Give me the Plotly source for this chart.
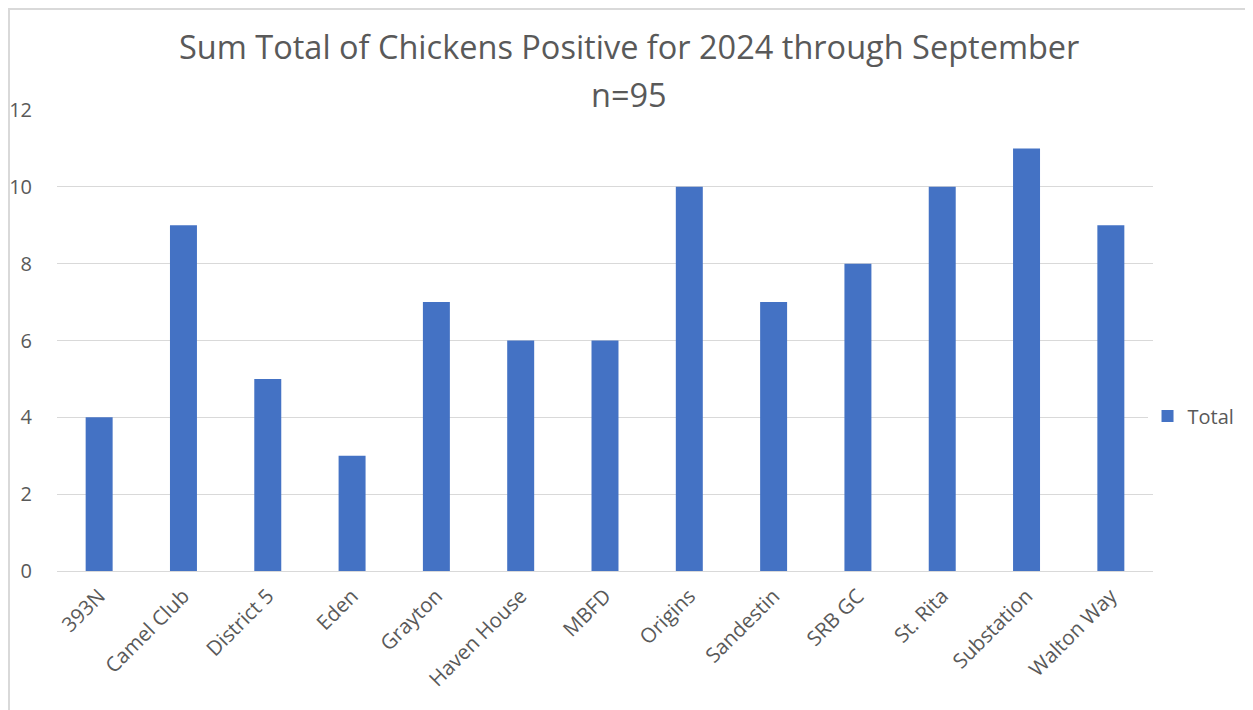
import plotly.graph_objects as go

# chart data
sites = ["393N", "Camel Club", "District 5", "Eden", "Grayton", "Haven House", "MBFD",
         "Origins", "Sandestin", "SRB GC", "St. Rita", "Substation", "Walton Way"]
totals = [4, 9, 5, 3, 7, 6, 6, 10, 7, 8, 10, 11, 9]
y_ticks = [0, 2, 4, 6, 8, 10, 12]

grey_text = "#595959"
font_family = "Open Sans, Noto Sans, sans-serif"

fig = go.Figure()

fig.add_trace(go.Bar(
    x=sites, y=totals, name="Total",
    marker=dict(color="#4472C4", line=dict(width=0)),
    width=0.32,
))

# the page body adds an 8px offset, so margins are shifted to compensate
fig.update_layout(
    width=1253, height=710,
    paper_bgcolor="white", plot_bgcolor="white",
    margin=dict(l=49, r=108, t=102, b=147, autoexpand=False),
    font=dict(family=font_family, color=grey_text, size=20),
    showlegend=True,
    legend=dict(x=0.995, y=0.336, xanchor="left", yanchor="middle",
                font=dict(size=20, color=grey_text), itemwidth=30),
    xaxis=dict(tickangle=-45, showgrid=False, showline=False, ticks="",
               automargin=False, ticklabelstandoff=8,
               tickfont=dict(size=20.5, color=grey_text)),
    yaxis=dict(range=[0, 12], tickvals=y_ticks, showgrid=True, gridcolor="#D9D9D9",
               gridwidth=1, zeroline=True, zerolinecolor="#D9D9D9", zerolinewidth=1,
               showline=False, ticks="", ticklabelstandoff=24, automargin=False,
               tickfont=dict(size=20, color=grey_text)),
    bargap=0.68,
)

# two-line title
fig.add_annotation(text="Sum Total of Chickens Positive for 2024 through September",
                   xref="paper", yref="paper", x=0.522, y=1.138, xanchor="center",
                   yanchor="middle", showarrow=False,
                   font=dict(size=32.5, color=grey_text, family=font_family))
fig.add_annotation(text="n=95",
                   xref="paper", yref="paper", x=0.522, y=1.033, xanchor="center",
                   yanchor="middle", showarrow=False,
                   font=dict(size=32.5, color=grey_text, family=font_family))

# chart border
fig.add_shape(type="rect", xref="paper", yref="paper",
              x0=-0.0438, y0=-0.5, x1=1.3, y1=1.219,
              line=dict(color="#D9D9D9", width=2), layer="below")

fig.write_html("out.html")
